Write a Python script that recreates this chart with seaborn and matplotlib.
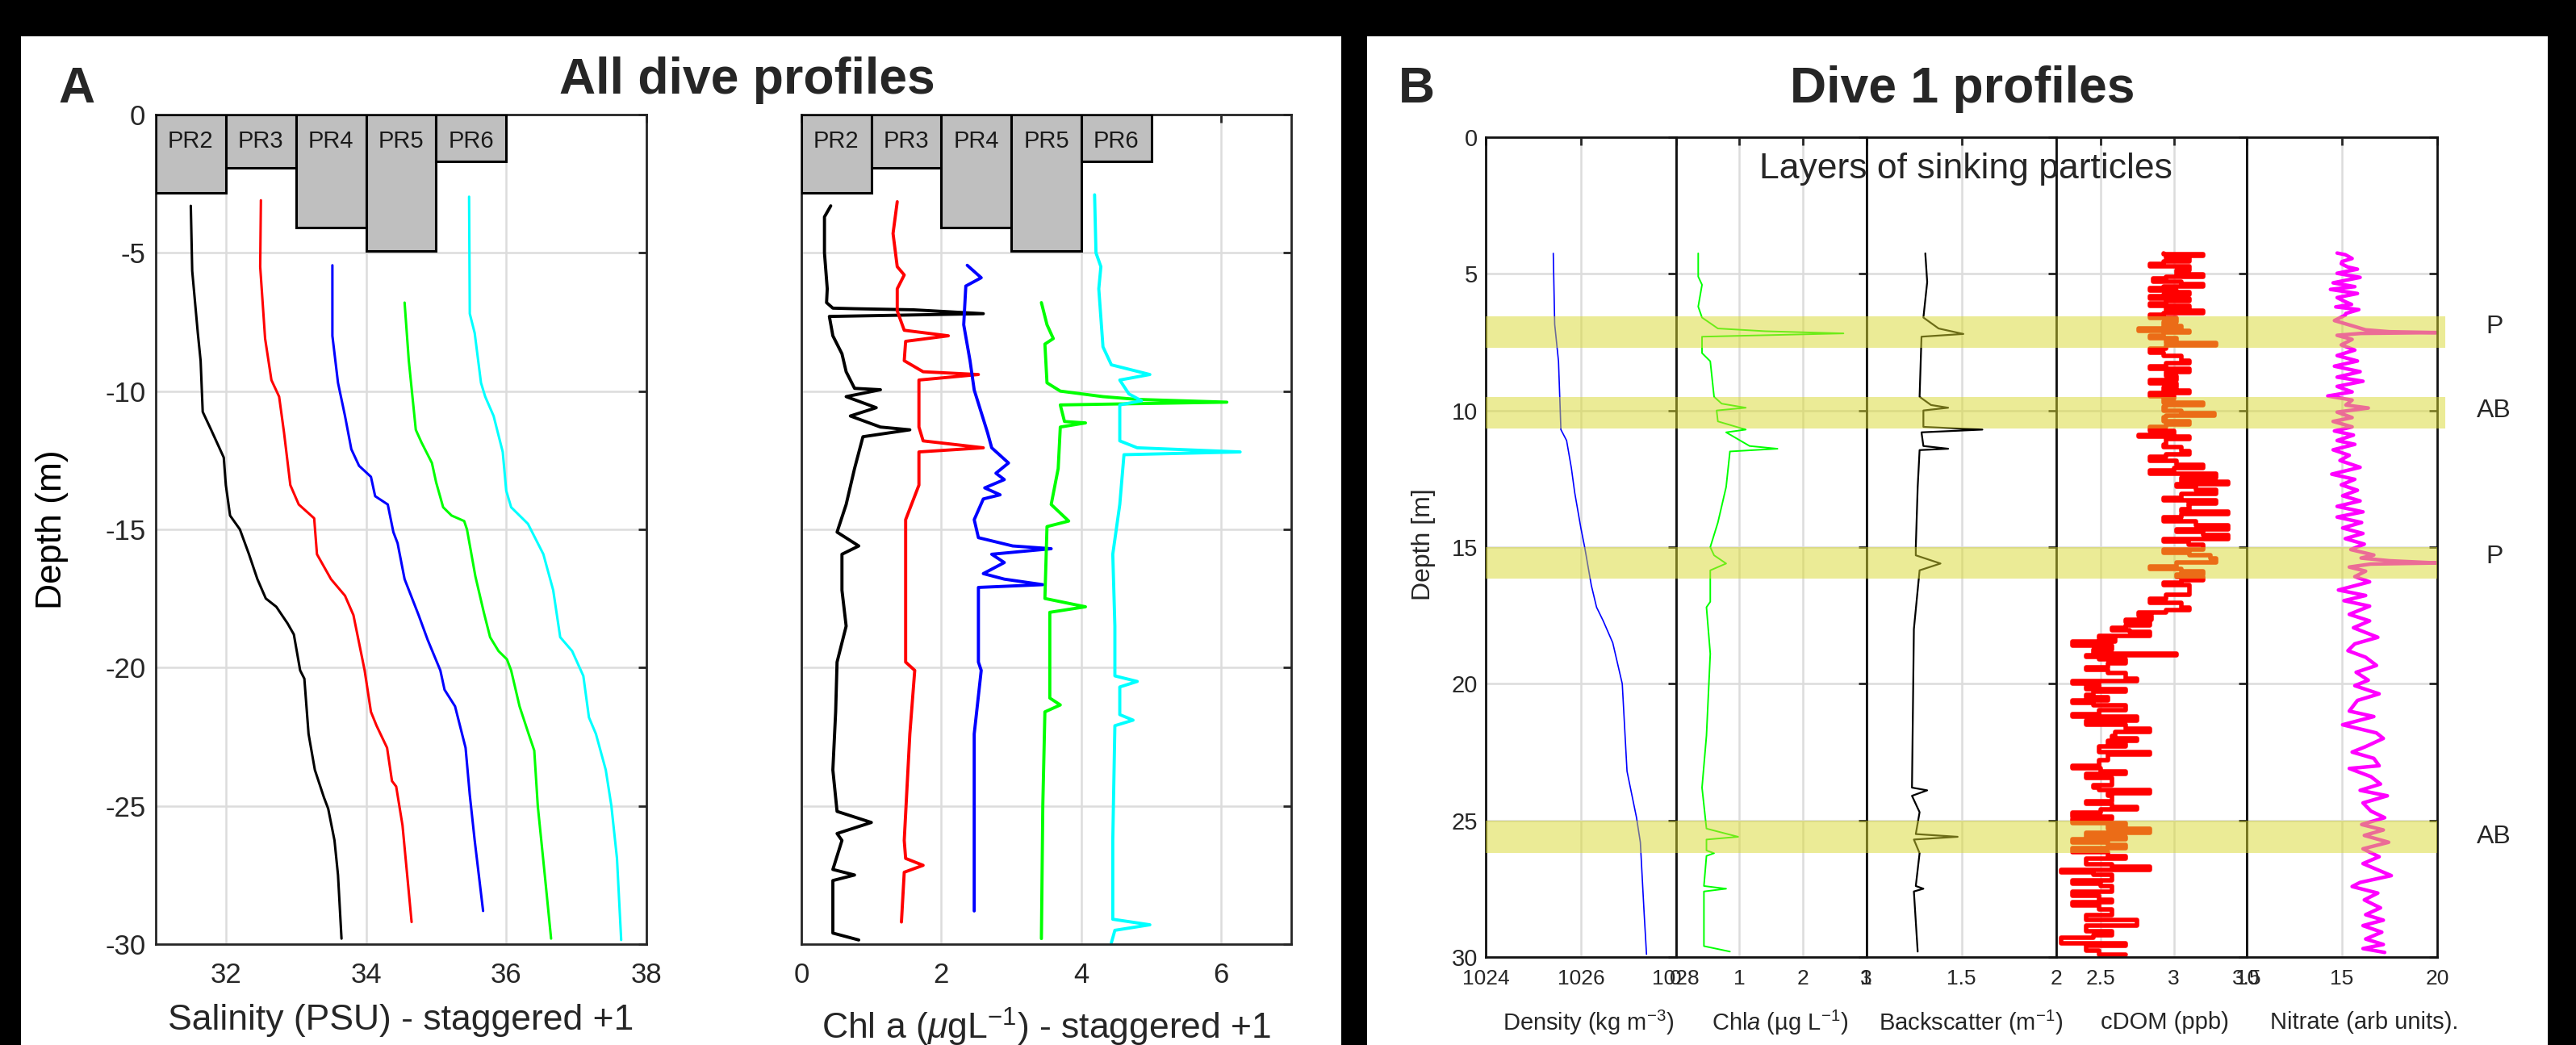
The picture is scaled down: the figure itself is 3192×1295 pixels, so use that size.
import matplotlib
matplotlib.use("Agg")
import matplotlib.pyplot as plt
from matplotlib.patches import Rectangle
import seaborn as sns

# ---- Panel A data: salinity profiles (value, depth), staggered +1 ----
sal_pr2 = [(31.50, -3.3), (31.52, -5.65), (31.60, -7.9), (31.64, -8.9), (31.67, -10.75), (31.79, -11.4),
           (31.97, -12.4), (32.00, -13.4), (32.06, -14.5), (32.20, -15.0), (32.33, -15.9), (32.45, -16.8),
           (32.57, -17.5), (32.72, -17.8), (32.88, -18.4), (32.97, -18.8), (33.06, -20.1), (33.12, -20.4),
           (33.18, -22.4), (33.27, -23.7), (33.40, -24.7), (33.46, -25.1), (33.55, -26.25), (33.60, -27.5),
           (33.65, -29.8)]
sal_pr3 = [(32.50, -3.1), (32.49, -5.5), (32.56, -8.1), (32.65, -9.6), (32.76, -10.2), (32.83, -11.5),
           (32.92, -13.4), (33.04, -14.1), (33.26, -14.6), (33.30, -15.9), (33.50, -16.8), (33.70, -17.4),
           (33.82, -18.1), (33.98, -20.1), (34.07, -21.6), (34.15, -22.1), (34.30, -22.9), (34.37, -24.1),
           (34.43, -24.3), (34.52, -25.7), (34.65, -29.2)]
sal_pr4 = [(33.52, -5.45), (33.52, -8.0), (33.60, -9.7), (33.70, -10.9), (33.79, -12.1), (33.90, -12.7),
           (34.07, -13.1), (34.13, -13.8), (34.31, -14.1), (34.39, -15.1), (34.45, -15.5), (34.55, -16.8),
           (34.75, -18.1), (34.88, -19.0), (35.06, -20.1), (35.12, -20.8), (35.27, -21.4), (35.42, -22.9),
           (35.48, -24.6), (35.55, -26.25), (35.67, -28.8)]
sal_pr5 = [(34.55, -6.8), (34.61, -8.9), (34.71, -11.4), (34.79, -11.85), (34.94, -12.6), (35.00, -13.3),
           (35.10, -14.2), (35.22, -14.5), (35.40, -14.7), (35.44, -15.0), (35.56, -16.7), (35.68, -18.0),
           (35.77, -18.9), (35.89, -19.4), (36.01, -19.7), (36.07, -20.1), (36.19, -21.4), (36.32, -22.4),
           (36.40, -23.0), (36.45, -25.0), (36.55, -27.5), (36.64, -29.8)]
sal_pr6 = [(35.47, -2.97), (35.48, -7.2), (35.55, -7.9), (35.64, -9.7), (35.70, -10.2), (35.82, -10.9),
           (35.95, -12.2), (36.00, -13.6), (36.07, -14.2), (36.31, -14.8), (36.37, -15.1), (36.53, -15.9),
           (36.67, -17.2), (36.77, -18.9), (36.94, -19.4), (37.10, -20.3), (37.18, -21.8), (37.28, -22.4),
           (37.42, -23.7), (37.50, -25.0), (37.58, -26.9), (37.64, -29.85)]

# ---- Panel A data: chl a profiles (value, depth), staggered +1 ----
chl_pr2 = [(0.42, -3.3), (0.33, -3.7), (0.33, -5.0), (0.37, -6.3), (0.36, -6.8), (0.45, -7.0), (0.76, -7.02),
           (1.6, -7.06), (2.6, -7.2), (0.40, -7.3), (0.45, -8.0), (0.58, -8.65), (0.64, -9.3), (0.76, -9.9),
           (1.13, -9.95), (0.64, -10.2), (1.07, -10.6), (0.70, -10.9), (1.13, -11.3), (1.55, -11.4),
           (0.88, -11.65), (0.76, -12.8), (0.64, -14.1), (0.51, -15.1), (0.82, -15.6), (0.58, -15.9),
           (0.58, -17.2), (0.64, -18.5), (0.51, -19.8), (0.49, -21.6), (0.45, -23.7), (0.51, -25.2),
           (1.0, -25.6), (0.51, -26.0), (0.58, -26.25), (0.45, -27.3), (0.76, -27.5), (0.45, -27.7),
           (0.45, -29.6), (0.82, -29.85)]
chl_pr3 = [(1.37, -3.15), (1.31, -4.3), (1.37, -5.5), (1.47, -5.8), (1.37, -6.3), (1.37, -7.1), (1.47, -7.8),
           (2.1, -8.0), (1.49, -8.2), (1.47, -8.9), (1.74, -9.3), (2.53, -9.4), (1.68, -9.6), (1.68, -11.3),
           (1.74, -11.8), (2.6, -12.05), (1.68, -12.2), (1.68, -13.4), (1.49, -14.65), (1.49, -19.8),
           (1.62, -20.1), (1.55, -22.4), (1.47, -26.25), (1.49, -26.9), (1.74, -27.15), (1.47, -27.4),
           (1.43, -29.2)]
chl_pr4 = [(2.37, -5.45), (2.57, -5.9), (2.35, -6.2), (2.32, -7.6), (2.41, -8.9), (2.47, -9.96), (2.66, -11.5),
           (2.72, -12.05), (2.96, -12.6), (2.78, -12.97), (2.90, -13.2), (2.62, -13.5), (2.84, -13.75),
           (2.60, -13.9), (2.47, -14.65), (2.53, -15.3), (3.02, -15.6), (3.57, -15.7), (2.72, -15.9),
           (2.90, -16.2), (2.60, -16.6), (2.90, -16.8), (3.45, -17.0), (2.53, -17.1), (2.53, -19.8),
           (2.57, -20.1), (2.47, -22.4), (2.47, -25.0), (2.47, -28.8)]
chl_pr5 = [(3.43, -6.8), (3.51, -7.6), (3.60, -8.1), (3.48, -8.3), (3.51, -9.7), (3.70, -10.0), (4.31, -10.2),
           (4.80, -10.3), (6.08, -10.4), (3.70, -10.5), (3.76, -11.1), (4.06, -11.15), (3.70, -11.3),
           (3.67, -12.8), (3.57, -14.1), (3.82, -14.7), (3.51, -14.9), (3.48, -17.5), (4.06, -17.8),
           (3.55, -18.0), (3.55, -21.1), (3.70, -21.35), (3.48, -21.6), (3.45, -25.0), (3.43, -29.8)]
chl_pr6 = [(4.19, -2.9), (4.21, -5.0), (4.28, -5.5), (4.25, -6.3), (4.31, -8.4), (4.43, -9.05), (4.98, -9.4),
           (4.55, -9.6), (4.68, -10.1), (4.86, -10.35), (4.55, -10.5), (4.55, -11.8), (4.80, -12.05),
           (6.27, -12.2), (4.61, -12.3), (4.55, -14.1), (4.45, -15.9), (4.48, -18.5), (4.48, -20.3),
           (4.80, -20.5), (4.55, -20.7), (4.55, -21.7), (4.74, -21.9), (4.48, -22.1), (4.45, -26.25),
           (4.45, -29.1), (4.98, -29.3), (4.48, -29.5), (4.43, -29.95)]

profile_names = ["PR2", "PR3", "PR4", "PR5", "PR6"]
profile_colors = ["black", "red", "blue", "#00ff00", "cyan"]
surface_gap = [-2.83, -1.92, -4.1, -4.93, -1.7]   # depth of the grey boxes

# ---- Panel B data: dive 1 (value, depth) ----
density = [(1025.42, 4.25), (1025.45, 6.85), (1025.53, 8.2), (1025.58, 10.7), (1025.70, 11.1), (1025.80, 12.1),
           (1025.87, 13.0), (1026.00, 14.3), (1026.08, 15.0), (1026.22, 16.4), (1026.33, 17.2), (1026.47, 17.7),
           (1026.67, 18.5), (1026.75, 19.1), (1026.87, 20.0), (1026.97, 23.2), (1027.17, 24.9), (1027.25, 25.8),
           (1027.33, 28.4), (1027.38, 29.9)]
chla = [(0.35, 4.25), (0.35, 5.1), (0.41, 5.4), (0.35, 6.2), (0.41, 6.6), (0.66, 7.0), (1.41, 7.1), (2.64, 7.18),
        (0.41, 7.3), (0.41, 7.9), (0.54, 8.2), (0.60, 9.5), (0.72, 9.75), (1.10, 9.9), (0.64, 10.0), (0.66, 10.4),
        (1.10, 10.7), (0.79, 10.8), (1.16, 11.3), (1.60, 11.4), (0.85, 11.5), (0.79, 12.8), (0.66, 14.1),
        (0.54, 15.0), (0.60, 15.3), (0.79, 15.6), (0.54, 15.85), (0.54, 17.0), (0.48, 17.2), (0.54, 18.9),
        (0.48, 21.9), (0.41, 23.8), (0.48, 25.3), (0.98, 25.6), (0.48, 25.7), (0.48, 26.1), (0.60, 26.2),
        (0.48, 26.3), (0.44, 27.4), (0.79, 27.5), (0.44, 27.6), (0.44, 29.6), (0.85, 29.8)]
backscatter = [(1.31, 4.25), (1.32, 5.3), (1.30, 6.6), (1.38, 7.0), (1.51, 7.2), (1.29, 7.3), (1.28, 9.5),
               (1.34, 9.8), (1.43, 9.9), (1.30, 10.0), (1.30, 10.6), (1.61, 10.7), (1.29, 10.8), (1.30, 11.3),
               (1.43, 11.4), (1.28, 11.45), (1.27, 12.8), (1.26, 15.0), (1.26, 15.3), (1.39, 15.6), (1.28, 15.85),
               (1.25, 18.0), (1.24, 23.8), (1.32, 23.9), (1.24, 24.1), (1.28, 24.7), (1.26, 25.5), (1.48, 25.6),
               (1.25, 25.7), (1.28, 26.2), (1.26, 27.4), (1.30, 27.5), (1.25, 27.6), (1.27, 29.8)]
cdom = [(2.93, 4.25), (3.20, 4.29), (2.95, 4.35), (3.11, 4.44), (2.93, 4.55), (2.84, 4.63), (3.11, 4.73),
        (3.02, 4.88), (3.20, 5.03), (2.95, 5.10), (2.86, 5.18), (3.05, 5.28), (3.20, 5.37), (2.93, 5.45),
        (2.84, 5.52), (3.02, 5.60), (3.11, 5.67), (2.93, 5.75), (2.84, 5.82), (3.11, 5.92), (2.95, 6.00),
        (2.84, 6.07), (3.11, 6.16), (2.95, 6.25), (3.20, 6.36), (2.93, 6.45), (2.84, 6.51), (3.02, 6.62),
        (2.93, 6.76), (3.05, 6.90), (2.76, 7.00), (3.11, 7.08), (2.93, 7.15), (2.84, 7.25), (3.02, 7.35),
        (2.95, 7.45), (3.29, 7.54), (2.95, 7.62), (2.84, 7.74), (2.93, 7.89), (3.05, 8.00), (3.11, 8.18),
        (2.95, 8.28), (2.84, 8.38), (3.11, 8.48), (2.95, 8.60), (3.02, 8.75), (2.84, 8.88), (3.02, 9.02),
        (2.93, 9.15), (3.11, 9.27), (2.84, 9.37), (3.00, 9.47), (2.93, 9.57), (3.20, 9.71), (2.95, 9.80),
        (2.93, 9.86), (3.05, 10.0), (3.28, 10.10), (2.95, 10.18), (2.93, 10.26), (3.11, 10.40), (2.95, 10.50),
        (2.84, 10.60), (3.00, 10.75), (2.76, 10.90), (3.11, 10.95), (2.95, 11.05), (2.93, 11.24), (3.05, 11.35),
        (3.11, 11.50), (2.95, 11.60), (2.84, 11.70), (3.02, 11.85), (3.20, 12.00), (3.00, 12.10), (2.84, 12.20),
        (3.29, 12.30), (3.05, 12.45), (3.37, 12.60), (3.02, 12.70), (3.15, 12.80), (3.29, 12.90), (3.05, 13.05),
        (2.93, 13.20), (3.29, 13.30), (3.10, 13.40), (3.11, 13.50), (3.05, 13.60), (3.37, 13.70), (3.05, 13.80),
        (2.93, 13.90), (3.15, 14.05), (3.37, 14.20), (3.02, 14.35), (3.20, 14.45), (3.37, 14.55), (2.93, 14.70),
        (3.10, 14.80), (3.20, 14.90), (2.93, 15.10), (3.11, 15.20), (3.25, 15.30), (3.29, 15.40), (3.02, 15.55),
        (2.84, 15.70), (3.05, 15.80), (3.20, 15.90), (3.02, 16.00), (3.20, 16.10), (3.05, 16.20), (2.93, 16.30),
        (3.11, 16.40), (3.11, 16.60), (2.95, 16.75), (2.84, 16.90), (3.05, 17.05), (3.11, 17.20), (2.95, 17.30),
        (2.76, 17.40), (2.85, 17.50), (2.67, 17.65), (2.84, 17.75), (2.67, 17.85), (2.58, 17.95), (2.70, 18.05),
        (2.84, 18.10), (2.49, 18.25), (2.60, 18.35), (2.31, 18.45), (2.58, 18.60), (2.45, 18.75), (3.02, 18.90),
        (2.40, 18.95), (2.49, 19.03), (2.67, 19.10), (2.55, 19.25), (2.40, 19.40), (2.55, 19.50), (2.67, 19.60),
        (2.75, 19.80), (2.31, 19.90), (2.49, 20.00), (2.40, 20.10), (2.67, 20.20), (2.45, 20.30), (2.40, 20.40),
        (2.55, 20.50), (2.31, 20.60), (2.45, 20.70), (2.67, 20.80), (2.49, 20.95), (2.31, 21.10), (2.75, 21.20),
        (2.40, 21.35), (2.67, 21.50), (2.84, 21.65), (2.60, 21.75), (2.58, 21.90), (2.75, 22.00), (2.55, 22.10),
        (2.67, 22.20), (2.49, 22.30), (2.84, 22.50), (2.55, 22.60), (2.49, 22.80), (2.31, 23.00), (2.50, 23.10),
        (2.67, 23.20), (2.40, 23.30), (2.58, 23.45), (2.58, 23.60), (2.45, 23.70), (2.49, 23.80), (2.84, 23.90),
        (2.55, 24.00), (2.58, 24.10), (2.40, 24.30), (2.58, 24.40), (2.75, 24.50), (2.50, 24.60), (2.31, 24.70),
        (2.58, 24.85), (2.31, 24.95), (2.67, 25.10), (2.55, 25.20), (2.84, 25.30), (2.40, 25.45), (2.67, 25.60),
        (2.31, 25.70), (2.55, 25.80), (2.67, 25.90), (2.31, 26.00), (2.55, 26.15), (2.67, 26.30), (2.40, 26.40),
        (2.58, 26.60), (2.84, 26.70), (2.23, 26.80), (2.45, 26.90), (2.58, 27.00), (2.31, 27.20), (2.50, 27.30),
        (2.58, 27.40), (2.31, 27.60), (2.49, 27.75), (2.58, 27.90), (2.31, 28.00), (2.49, 28.10), (2.58, 28.25),
        (2.40, 28.45), (2.75, 28.65), (2.40, 28.85), (2.58, 29.05), (2.45, 29.20), (2.23, 29.30), (2.67, 29.50),
        (2.40, 29.60), (2.49, 29.75), (2.67, 29.90)]
nitrate = [(14.74, 4.24), (15.17, 4.30), (15.53, 4.44), (15.00, 4.55), (14.96, 4.63), (15.30, 4.75), (15.81, 4.83),
           (14.74, 4.98), (15.95, 5.13), (15.10, 5.25), (14.53, 5.33), (15.67, 5.47), (14.39, 5.57), (15.81, 5.72),
           (14.74, 5.87), (15.17, 6.02), (15.50, 6.12), (14.67, 6.21), (15.88, 6.31), (15.20, 6.45), (15.17, 6.51),
           (14.60, 6.71), (15.53, 6.90), (16.24, 7.05), (17.50, 7.12), (19.95, 7.15), (16.00, 7.18), (14.74, 7.25),
           (15.53, 7.40), (14.96, 7.60), (15.67, 7.79), (14.74, 7.99), (15.81, 8.19), (14.60, 8.38), (15.95, 8.58),
           (14.74, 8.78), (16.10, 8.93), (14.74, 9.12), (15.53, 9.32), (14.25, 9.47), (15.53, 9.62), (15.20, 9.80),
           (16.38, 9.91), (14.74, 10.06), (15.53, 10.26), (14.53, 10.40), (15.53, 10.60), (14.60, 10.75),
           (15.60, 10.90), (14.74, 11.10), (15.67, 11.24), (14.53, 11.44), (15.38, 11.64), (14.89, 11.83),
           (15.95, 12.08), (14.46, 12.33), (15.67, 12.52), (14.96, 12.72), (15.81, 12.92), (15.03, 13.12),
           (15.95, 13.31), (14.74, 13.51), (16.10, 13.71), (14.74, 13.90), (16.03, 14.10), (15.03, 14.30),
           (16.10, 14.50), (15.17, 14.69), (16.17, 14.89), (15.46, 15.09), (16.67, 15.29), (16.00, 15.40),
           (17.50, 15.50), (19.95, 15.58), (16.50, 15.62), (15.38, 15.73), (16.24, 15.88), (15.67, 16.08),
           (16.45, 16.27), (14.81, 16.57), (16.24, 16.77), (15.10, 16.96), (16.45, 17.16), (15.38, 17.46),
           (16.45, 17.70), (15.60, 17.95), (16.88, 18.30), (15.67, 18.54), (15.31, 18.79), (16.24, 19.03),
           (16.81, 19.33), (15.74, 19.58), (16.38, 19.87), (15.67, 20.07), (16.95, 20.37), (15.81, 20.61),
           (15.38, 21.00), (16.67, 21.20), (15.03, 21.50), (16.81, 21.80), (17.17, 22.00), (16.24, 22.30),
           (15.53, 22.50), (16.67, 22.73), (16.95, 23.00), (15.38, 23.10), (16.52, 23.40), (17.02, 23.67),
           (15.95, 23.90), (17.38, 24.10), (16.10, 24.36), (16.52, 24.66), (17.24, 24.90), (16.03, 25.15),
           (17.17, 25.35), (16.17, 25.55), (17.45, 25.80), (16.10, 26.04), (16.95, 26.33), (16.10, 26.58),
           (16.95, 26.83), (17.59, 27.02), (15.95, 27.27), (15.53, 27.42), (16.88, 27.66), (16.17, 27.91),
           (17.02, 28.20), (16.24, 28.45), (17.17, 28.65), (16.10, 28.85), (17.09, 29.09), (16.24, 29.34),
           (17.17, 29.54), (16.10, 29.69), (17.24, 29.83)]

layer_bands = [(6.55, 7.7), (9.5, 10.65), (15.0, 16.15), (25.0, 26.2)]
layer_labels = ["P", "AB", "P", "AB"]
layer_label_depth = [6.95, 10.0, 15.35, 25.6]

sns.set_style("white")
plt.rcParams["font.family"] = ["Liberation Sans", "DejaVu Sans"]
plt.rcParams["mathtext.fontset"] = "custom"
plt.rcParams["mathtext.rm"] = "Liberation Sans"
plt.rcParams["mathtext.it"] = "Liberation Sans:italic"
plt.rcParams["mathtext.bf"] = "Liberation Sans:bold"
plt.rcParams["axes.unicode_minus"] = False

W, H = 3192, 1295
DARK = "#262626"
GRID = "#dcdcdc"

fig = plt.figure(figsize=(W / 200, H / 200), dpi=200, facecolor="black")


def px_axes(x0, y0, x1, y1):
    return fig.add_axes([x0 / W, 1 - y1 / H, (x1 - x0) / W, (y1 - y0) / H])


def style_axes(ax, lw=1.0, tick_size=12.5, xpad=8, ypad=4.5, tick_len=3.5):
    ax.set_facecolor("white")
    for s in ax.spines.values():
        s.set_visible(True)
        s.set_color(DARK)
        s.set_linewidth(lw)
    ax.grid(True, color=GRID, linewidth=0.9)
    ax.set_axisbelow(True)
    ax.tick_params(axis="both", direction="in", length=tick_len, width=1.0, color=DARK,
                   labelcolor=DARK, labelsize=tick_size, top=True, right=True)
    ax.tick_params(axis="x", pad=xpad)
    ax.tick_params(axis="y", pad=ypad)


# white panels
fig.add_artist(Rectangle((26 / W, 0), 1636 / W, 1250 / H, transform=fig.transFigure,
                         facecolor="white", edgecolor="none", zorder=-5))
fig.add_artist(Rectangle((1694 / W, 0), 1463 / W, 1250 / H, transform=fig.transFigure,
                         facecolor="white", edgecolor="none", zorder=-5))

# ---------------- Panel A ----------------
ax_sal = px_axes(193, 142, 801, 1170)
ax_chl = px_axes(993, 142, 1600, 1170)

for ax, series, x0, xlim, xticks in [
        (ax_sal, [sal_pr2, sal_pr3, sal_pr4, sal_pr5, sal_pr6], 31, (31, 38), [32, 34, 36, 38]),
        (ax_chl, [chl_pr2, chl_pr3, chl_pr4, chl_pr5, chl_pr6], 0, (0, 7), [0, 2, 4, 6])]:
    style_axes(ax)
    for vals, col in zip(series, profile_colors):
        xs, ys = zip(*vals)
        sns.lineplot(x=list(xs), y=list(ys), sort=False, estimator=None, color=col,
                     linewidth=1.1 if ax is ax_sal else 1.4, ax=ax)
    for i, (name, gap) in enumerate(zip(profile_names, surface_gap)):
        ax.add_patch(Rectangle((x0 + i, 0), 1, gap, facecolor="#bfbfbf", edgecolor="black",
                               linewidth=1.1, zorder=3))
        ax.text(x0 + i + 0.5, -0.95, name, ha="center", va="center", fontsize=10.5,
                color="#1a1a1a", zorder=4)
    ax.set_xlim(*xlim)
    ax.set_ylim(-30, 0)
    ax.set_xticks(xticks)
    ax.set_yticks([-30, -25, -20, -15, -10, -5, 0])
    ax.set_xlabel("")
    ax.set_ylabel("")

ax_chl.set_yticklabels([])
ax_sal.set_ylabel("Depth (m)", fontsize=16, color="black")
ax_sal.yaxis.set_label_coords(-0.178, 0.5)
ax_sal.text(0.5, -0.092, "Salinity (PSU) - staggered +1", transform=ax_sal.transAxes,
            ha="center", va="center", fontsize=16)
ax_chl.text(0.5, -0.10, r"Chl a ($\mu$gL$^{-1}$) - staggered +1", transform=ax_chl.transAxes,
            ha="center", va="center", fontsize=16)

fig.text(926 / W, 1 - 116 / H, "All dive profiles", ha="center", va="baseline",
         fontsize=22.5, fontweight="bold")
fig.text(95 / W, 1 - 127 / H, "A", ha="center", va="baseline", fontsize=22.5, fontweight="bold")

# ---------------- Panel B ----------------
bx0, bx1, by0, by1 = 1841, 3020, 170, 1186
col_w = (bx1 - bx0) / 5
columns = [
    (density, "blue", 0.6, "default", (1024, 1028), [1024, 1026, 1028], "Density (kg m$^{-3}$)", 0.038),
    (chla, "#00ff00", 0.7, "default", (0, 3), [0, 1, 2, 3], r"Chl$\mathit{a}$ (µg L$^{-1}$)", 0.047),
    (backscatter, "black", 0.8, "default", (1, 2), [1, 1.5, 2], "Backscatter (m$^{-1}$)", 0.051),
    (cdom, "red", 2.0, "steps-pre", (2.2, 3.5), [2.5, 3, 3.5], "cDOM (ppb)", 0.068),
    (nitrate, "magenta", 1.6, "default", (10, 20), [10, 15, 20], "Nitrate (arb units).", 0.115),
]
b_axes = []
for i, (vals, col, lw, ds, xlim, xticks, label, dx) in enumerate(columns):
    ax = px_axes(bx0 + i * col_w, by0, bx0 + (i + 1) * col_w, by1)
    style_axes(ax, lw=1.0, tick_size=9.5, xpad=5.5, ypad=3.6)
    ax.spines[:].set_color("#111111")
    xs, ys = zip(*vals)
    sns.lineplot(x=list(xs), y=list(ys), sort=False, estimator=None, color=col, linewidth=lw,
                 drawstyle=ds, ax=ax)
    ax.set_xlim(*xlim)
    ax.set_ylim(30, 0)
    ax.set_xticks(xticks)
    ax.set_xticklabels([f"{t:g}" for t in xticks])
    ax.set_yticks([0, 5, 10, 15, 20, 25, 30])
    ax.set_xlabel("")
    ax.set_ylabel("")
    if i > 0:
        ax.set_yticklabels([])
    else:
        ax.tick_params(axis="y", labelsize=10.5)
    ax.text(0.5 + dx, -0.08, label, transform=ax.transAxes, ha="center", va="center", fontsize=10.5)
    b_axes.append(ax)

b_axes[0].set_ylabel("Depth [m]", fontsize=11.5, color=DARK)
b_axes[0].yaxis.set_label_coords(-0.263, 0.503)

# overlay for the highlighted layers
ov = px_axes(bx0, by0, bx1, by1)
ov.set_xlim(0, 1)
ov.set_ylim(30, 0)
ov.axis("off")
ov.patch.set_visible(False)
band_right = [1.0085, 1.0085, 1.0, 1.0]
for (d0, d1), xr in zip(layer_bands, band_right):
    span = ov.axhspan(d0, d1, xmin=0.0, xmax=xr, facecolor=(0.85, 0.85, 0.18), alpha=0.5,
                      edgecolor="none")
    span.set_clip_on(False)
for lab, d in zip(layer_labels, layer_label_depth):
    ov.text(1.06, d, lab, ha="center", va="center", fontsize=11.5, clip_on=False)
ov.text(0.505, 1.5, "Layers of sinking particles", ha="center", va="baseline", fontsize=16)

fig.text(2432 / W, 1 - 127 / H, "Dive 1 profiles", ha="center", va="baseline",
         fontsize=22.5, fontweight="bold")
fig.text(1755 / W, 1 - 127 / H, "B", ha="center", va="baseline", fontsize=22.5, fontweight="bold")

fig.savefig("out.png", dpi=200, facecolor="black")
